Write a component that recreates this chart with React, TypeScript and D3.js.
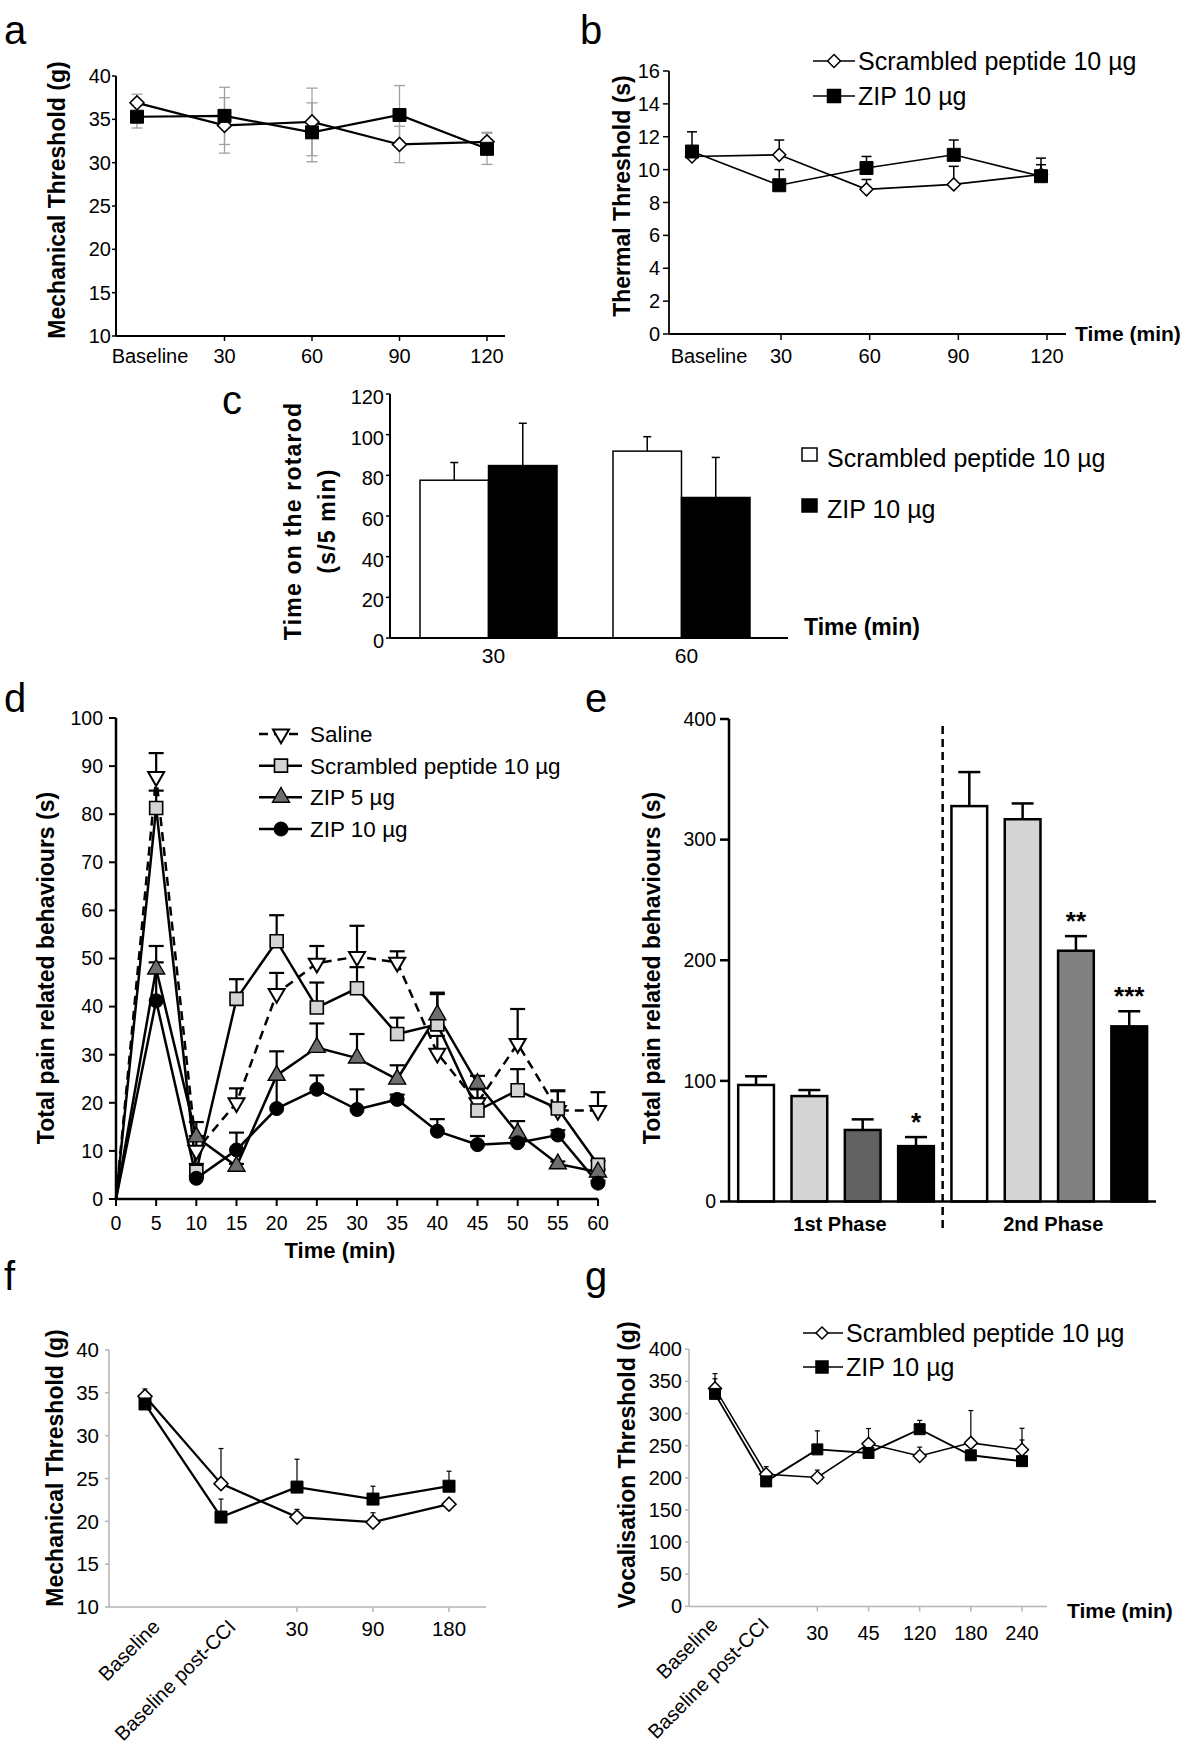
import React from 'react';
import * as d3 from 'd3';

const FONT = "'Liberation Sans', Arial, Helvetica, sans-serif";

// ---- panel a : mechanical threshold (g)
const aTimes = ['Baseline', '30', '60', '90', '120'];
const aYTicks = [10, 15, 20, 25, 30, 35, 40];
const aScrambled = [36.9, 34.3, 34.7, 32.1, 32.4];
const aScrambledSem = [1.0, 3.2, 3.9, 2.1, 1.1];
const aZip = [35.3, 35.4, 33.5, 35.5, 31.6];
const aZipSem = [1.3, 3.3, 3.4, 3.4, 1.8];

// ---- panel b : thermal threshold (s)
const bTimes = ['Baseline', '30', '60', '90', '120'];
const bYTicks = [0, 2, 4, 6, 8, 10, 12, 14, 16];
const bScrambled = [10.8, 10.9, 8.8, 9.1, 9.7];
const bScrambledSem = [0.2, 0.9, 0.6, 1.1, 1.0];
const bZip = [11.1, 9.05, 10.1, 10.9, 9.6];
const bZipSem = [1.2, 0.95, 0.7, 0.9, 0.7];

// ---- panel c : rotarod
const cTimes = ['30', '60'];
const cYTicks = [0, 20, 40, 60, 80, 100, 120];
const cScrambled = [77.6, 91.9];
const cScrambledSem = [8.7, 7.1];
const cZip = [84.8, 69.1];
const cZipSem = [20.8, 19.7];

// ---- panel d : formalin time course
const dTimes = [0, 5, 10, 15, 20, 25, 30, 35, 40, 45, 50, 55, 60];
const dYTicks = [0, 10, 20, 30, 40, 50, 60, 70, 80, 90, 100];
const dSaline = [0, 87.8, 10.1, 20.0, 42.7, 49.0, 50.4, 49.2, 30.3, 20.0, 32.3, 18.4, 18.4];
const dSalineSem = [0, 4.9, 3.0, 3.0, 4.3, 3.6, 6.4, 2.3, 3.6, 2.8, 7.2, 4.0, 3.8];
const dScrambled = [0, 81.3, 5.7, 41.6, 53.6, 39.8, 43.8, 34.3, 36.3, 18.4, 22.6, 18.8, 7.1];
const dScrambledSem = [0, 3.6, 1.6, 4.1, 5.4, 5.2, 4.4, 3.4, 6.3, 2.6, 4.4, 3.8, 0.8];
const dZip5 = [0, 47.8, 12.9, 6.8, 25.7, 31.5, 29.3, 24.9, 38.3, 24.0, 13.7, 7.3, 5.6];
const dZip5Sem = [0, 4.8, 3.1, 0.5, 5.0, 5.0, 5.0, 2.9, 4.6, 1.6, 2.5, 0.5, 0.5];
const dZip10 = [0, 41.2, 4.3, 10.2, 18.8, 22.8, 18.6, 20.7, 14.1, 11.3, 11.7, 13.3, 3.3];
const dZip10Sem = [0, 8.0, 0.5, 3.6, 6.1, 2.9, 4.2, 1.0, 2.5, 1.8, 0.5, 1.0, 0.5];
const dLegend = ['Saline', 'Scrambled peptide 10 µg', 'ZIP 5 µg', 'ZIP 10 µg'];

// ---- panel e : phases
const ePhases = ['1st Phase', '2nd Phase'];
const eGroups = ['Saline', 'Scrambled peptide 10 µg', 'ZIP 5 µg', 'ZIP 10 µg'];
const eYTicks = [0, 100, 200, 300, 400];
const ePhase1 = [96.6, 87.4, 59.3, 45.9];
const ePhase1Sem = [7.2, 5.0, 8.8, 7.5];
const ePhase1Sig = ['', '', '', '*'];
const ePhase2 = [327.8, 316.9, 207.9, 145.2];
const ePhase2Sem = [28.2, 13.1, 12.1, 12.5];
const ePhase2Sig = ['', '', '**', '***'];
const ePhase1Fill = ['#ffffff', '#d4d4d4', '#626262', '#000000'];
const ePhase2Fill = ['#ffffff', '#d4d4d4', '#808080', '#000000'];

// ---- panel f : CCI mechanical
const fTimes = ['Baseline', 'Baseline post-CCI', '30', '90', '180'];
const fYTicks = [10, 15, 20, 25, 30, 35, 40];
const fScrambled = [34.6, 24.4, 20.5, 19.9, 22.0];
const fScrambledSem = [0.85, 4.1, 0.9, 1.1, 0];
const fZip = [33.7, 20.5, 24.0, 22.6, 24.1];
const fZipSem = [0, 2.1, 3.25, 1.5, 1.75];

// ---- panel g : vocalisation
const gTimes = ['Baseline', 'Baseline post-CCI', '30', '45', '120', '180', '240'];
const gYTicks = [0, 50, 100, 150, 200, 250, 300, 350, 400];
const gScrambled = [339, 205.6, 200.5, 252.8, 234, 254.3, 243.7];
const gScrambledSem = [23, 11.7, 11.5, 23.8, 13.7, 50.3, 33.3];
const gZip = [330.5, 194.4, 244.2, 238.6, 275.6, 235, 225.9];
const gZipSem = [23.5, 0, 28.8, 0, 13.7, 0, 32.9];

type Shape = 'square' | 'diamond' | 'circle' | 'triUp' | 'triDown';

function Marker({ shape, x, y, size, fill, sw }: { shape: Shape; x: number; y: number; size: number; fill: string; sw: number }) {
  let d = '';
  let rot = 0;
  if (shape === 'square') d = d3.symbol().type(d3.symbolSquare).size(size * size)()!;
  if (shape === 'diamond') { d = d3.symbol().type(d3.symbolSquare).size(size * size / 2)()!; rot = 45; }
  if (shape === 'circle') d = d3.symbol().type(d3.symbolCircle).size(Math.PI * size * size / 4)()!;
  if (shape === 'triUp' || shape === 'triDown') {
    d = d3.symbol().type(d3.symbolTriangle).size(Math.sqrt(3) / 4 * size * size)()!;
    if (shape === 'triDown') rot = 180;
  }
  return <path d={d} transform={`translate(${x},${y}) rotate(${rot})`} fill={fill} stroke="#000" strokeWidth={sw} />;
}

type Series = {
  vals: number[]; sem: number[]; shape: Shape; size: number; fill: string; msw: number;
  lw: number; dash?: string; both?: boolean; eColor: string; eW: number; cap: number;
};

function Plot({ xs, y, series, skip = 0 }: { xs: number[]; y: d3.ScaleLinear<number, number>; series: Series[]; skip?: number }) {
  return (
    <g>
      {series.map((s, k) => (
        <g key={'e' + k}>
          {s.vals.map((v, i) => {
            if (i < skip || s.sem[i] <= 0) return null;
            const top = y(v + s.sem[i]);
            const bot = s.both ? y(v - s.sem[i]) : y(v);
            return (
              <g key={i} stroke={s.eColor} strokeWidth={s.eW}>
                <line x1={xs[i]} x2={xs[i]} y1={top} y2={bot} />
                <line x1={xs[i] - s.cap / 2} x2={xs[i] + s.cap / 2} y1={top} y2={top} />
                {s.both && <line x1={xs[i] - s.cap / 2} x2={xs[i] + s.cap / 2} y1={bot} y2={bot} />}
              </g>
            );
          })}
        </g>
      ))}
      {series.map((s, k) => (
        <path key={'l' + k}
          d={d3.line<number>().x((_, i) => xs[i]).y(v => y(v))(s.vals)!}
          fill="none" stroke="#000" strokeWidth={s.lw} strokeDasharray={s.dash} />
      ))}
      {series.map((s, k) => (
        <g key={'m' + k}>
          {s.vals.map((v, i) => i < skip ? null :
            <Marker key={i} shape={s.shape} x={xs[i]} y={y(v)} size={s.size} fill={s.fill} sw={s.msw} />)}
        </g>
      ))}
    </g>
  );
}

function YTitle({ x, y, text, size = 23 }: { x: number; y: number; text: string; size?: number }) {
  return (
    <text transform={`translate(${x},${y}) rotate(-90)`} textAnchor="middle" dy="0.35em"
      fontSize={size} fontWeight="bold">{text}</text>
  );
}

function PanelA() {
  const x = d3.scalePoint<string>().domain(aTimes).range([137, 487]);
  const y = d3.scaleLinear().domain([10, 40]).range([336, 76]);
  const xs = aTimes.map(c => x(c)!);
  const ax = 116;
  const series: Series[] = [
    { vals: aScrambled, sem: aScrambledSem, shape: 'diamond', size: 14, fill: '#fff', msw: 1.6, lw: 2.2, both: true, eColor: '#a0a0a0', eW: 1.3, cap: 11 },
    { vals: aZip, sem: aZipSem, shape: 'square', size: 13, fill: '#000', msw: 1, lw: 2.2, both: true, eColor: '#a0a0a0', eW: 1.3, cap: 11 },
  ];
  return (
    <g>
      <text x={4} y={44} fontSize={40}>a</text>
      <line x1={ax} x2={ax} y1={y(40)} y2={y(10)} stroke="#000" strokeWidth={2} />
      <line x1={ax} x2={505} y1={y(10)} y2={y(10)} stroke="#000" strokeWidth={2} />
      {aYTicks.map(t => (
        <g key={t}>
          <line x1={ax - 4} x2={ax} y1={y(t)} y2={y(t)} stroke="#000" strokeWidth={1.5} />
          <text x={ax - 5} y={y(t)} dy="0.35em" textAnchor="end" fontSize={20}>{t}</text>
        </g>
      ))}
      {aTimes.map((c, i) => (
        <g key={c}>
          {i > 0 && <line x1={xs[i]} x2={xs[i]} y1={y(10)} y2={y(10) + 5} stroke="#000" strokeWidth={1.5} />}
          <text x={i === 0 ? xs[i] + 13 : xs[i]} y={356} dy="0.35em" textAnchor="middle" fontSize={20}>{c}</text>
        </g>
      ))}
      <YTitle x={57} y={200} text="Mechanical Threshold (g)" />
      <Plot xs={xs} y={y} series={series} />
    </g>
  );
}

function PanelB() {
  const x = d3.scalePoint<string>().domain(bTimes).range([692, 1041]);
  const tick = d3.scalePoint<string>().domain(bTimes.slice(1)).range([781, 1047]);
  const y = d3.scaleLinear().domain([0, 16]).range([334, 71]);
  const xs = bTimes.map(c => x(c)!);
  const ax = 669;
  const series: Series[] = [
    { vals: bScrambled, sem: bScrambledSem, shape: 'diamond', size: 13, fill: '#fff', msw: 1.5, lw: 1.6, eColor: '#000', eW: 1.5, cap: 10 },
    { vals: bZip, sem: bZipSem, shape: 'square', size: 13, fill: '#000', msw: 1, lw: 1.6, eColor: '#000', eW: 1.5, cap: 10 },
  ];
  return (
    <g>
      <text x={580} y={44} fontSize={40}>b</text>
      <line x1={ax} x2={ax} y1={y(16)} y2={y(0)} stroke="#000" strokeWidth={1.8} />
      <line x1={ax} x2={1066} y1={y(0)} y2={y(0)} stroke="#000" strokeWidth={1.8} />
      {bYTicks.map(t => (
        <g key={t}>
          <line x1={ax - 6} x2={ax} y1={y(t)} y2={y(t)} stroke="#000" strokeWidth={1.5} />
          <text x={ax - 9} y={y(t)} dy="0.35em" textAnchor="end" fontSize={20}>{t}</text>
        </g>
      ))}
      {bTimes.slice(1).map(c => (
        <g key={c}>
          <line x1={tick(c)!} x2={tick(c)!} y1={y(0)} y2={y(0) + 6} stroke="#000" strokeWidth={1.5} />
          <text x={tick(c)!} y={356} dy="0.35em" textAnchor="middle" fontSize={20}>{c}</text>
        </g>
      ))}
      <text x={xs[0] + 17} y={356} dy="0.35em" textAnchor="middle" fontSize={20}>{bTimes[0]}</text>
      <text x={1075} y={y(0)} dy="0.35em" fontSize={21} fontWeight="bold">Time (min)</text>
      <YTitle x={622} y={196} text="Thermal Threshold (s)" />
      <Plot xs={xs} y={y} series={series} />
      {[{ label: 'Scrambled peptide 10 µg', shape: 'diamond' as Shape, fill: '#fff', yy: 61 },
        { label: 'ZIP 10 µg', shape: 'square' as Shape, fill: '#000', yy: 96 }].map(l => (
        <g key={l.label}>
          <line x1={813} x2={855} y1={l.yy} y2={l.yy} stroke="#000" strokeWidth={1.5} />
          <Marker shape={l.shape} x={834} y={l.yy} size={13} fill={l.fill} sw={1.5} />
          <text x={858} y={l.yy} dy="0.35em" fontSize={25}>{l.label}</text>
        </g>
      ))}
    </g>
  );
}

function PanelC() {
  const outer = d3.scaleBand<string>().domain(cTimes).range([420, 750]).paddingInner(0.29);
  const inner = d3.scaleBand<string>().domain(['scr', 'zip']).range([0, outer.bandwidth()]);
  const y = d3.scaleLinear().domain([0, 120]).range([638, 394]);
  const ax = 390;
  const groups = [
    { key: 'scr', vals: cScrambled, sem: cScrambledSem, fill: '#fff' },
    { key: 'zip', vals: cZip, sem: cZipSem, fill: '#000' },
  ];
  return (
    <g>
      <text x={222} y={414} fontSize={40}>c</text>
      <line x1={ax} x2={ax} y1={y(120)} y2={y(0)} stroke="#000" strokeWidth={2} />
      {cYTicks.map(t => (
        <g key={t}>
          <line x1={ax - 4} x2={ax} y1={y(t)} y2={y(t)} stroke="#000" strokeWidth={1.5} />
          <text x={ax - 6} y={y(t) + 3} dy="0.35em" textAnchor="end" fontSize={20}>{t}</text>
        </g>
      ))}
      {cTimes.map((c, i) => (
        <g key={c}>
          {groups.map(g => {
            const bx = outer(c)! + inner(g.key)!;
            const cx = bx + inner.bandwidth() / 2;
            const top = y(g.vals[i] + g.sem[i]);
            return (
              <g key={g.key}>
                <line x1={cx} x2={cx} y1={top} y2={y(g.vals[i])} stroke="#000" strokeWidth={1.5} />
                <line x1={cx - 4} x2={cx + 4} y1={top} y2={top} stroke="#000" strokeWidth={1.5} />
                <rect x={bx} width={inner.bandwidth()} y={y(g.vals[i])} height={y(0) - y(g.vals[i])}
                  fill={g.fill} stroke="#000" strokeWidth={1.5} />
              </g>
            );
          })}
          <text x={outer(c)! + outer.bandwidth() / 2 + 5} y={656} dy="0.35em" textAnchor="middle" fontSize={21}>{c}</text>
        </g>
      ))}
      <line x1={ax} x2={788} y1={y(0)} y2={y(0)} stroke="#000" strokeWidth={2} />
      <text transform="translate(293,521) rotate(-90)" textAnchor="middle" dy="0.35em" fontSize={23}
        fontWeight="bold" letterSpacing={1.2}>Time on the rotarod</text>
      <text transform="translate(327,521) rotate(-90)" textAnchor="middle" dy="0.35em" fontSize={23}
        fontWeight="bold" letterSpacing={1.2}>(s/5 min)</text>
      <rect x={802} y={448} width={15} height={13} fill="#fff" stroke="#000" strokeWidth={1.5} />
      <text x={827} y={458} dy="0.35em" fontSize={25}>Scrambled peptide 10 µg</text>
      <rect x={802} y={499} width={15} height={13} fill="#000" stroke="#000" strokeWidth={1.5} />
      <text x={827} y={509} dy="0.35em" fontSize={25}>ZIP 10 µg</text>
      <text x={804} y={627} dy="0.35em" fontSize={23} fontWeight="bold">Time (min)</text>
    </g>
  );
}

function PanelD() {
  const x = d3.scaleLinear().domain([0, 60]).range([116, 598]);
  const y = d3.scaleLinear().domain([0, 100]).range([1199, 718]);
  const xs = dTimes.map(t => x(t));
  const ax = 116;
  const series: Series[] = [
    { vals: dSaline, sem: dSalineSem, shape: 'triDown', size: 16, fill: '#fff', msw: 2, lw: 2.5, dash: '9 6', eColor: '#000', eW: 2.2, cap: 15 },
    { vals: dScrambled, sem: dScrambledSem, shape: 'square', size: 13, fill: '#d4d4d4', msw: 1.6, lw: 2.5, eColor: '#000', eW: 2.2, cap: 15 },
    { vals: dZip5, sem: dZip5Sem, shape: 'triUp', size: 17, fill: '#6e6e6e', msw: 1.4, lw: 2.5, eColor: '#000', eW: 2.2, cap: 15 },
    { vals: dZip10, sem: dZip10Sem, shape: 'circle', size: 14, fill: '#000', msw: 1, lw: 2.5, eColor: '#000', eW: 2.2, cap: 15 },
  ];
  const legendY = d3.scalePoint<string>().domain(dLegend).range([734, 829]);
  return (
    <g>
      <text x={4} y={712} fontSize={40}>d</text>
      <line x1={ax} x2={ax} y1={y(100)} y2={y(0)} stroke="#000" strokeWidth={2.5} />
      <line x1={ax} x2={x(60)} y1={y(0)} y2={y(0)} stroke="#000" strokeWidth={2.5} />
      {dYTicks.map(t => (
        <g key={t}>
          <line x1={ax - 7} x2={ax} y1={y(t)} y2={y(t)} stroke="#000" strokeWidth={2} />
          <text x={ax - 13} y={y(t)} dy="0.35em" textAnchor="end" fontSize={19.5}>{t}</text>
        </g>
      ))}
      {dTimes.map(t => (
        <g key={t}>
          <line x1={x(t)} x2={x(t)} y1={y(0)} y2={y(0) + 7} stroke="#000" strokeWidth={2} />
          <text x={x(t)} y={1223} dy="0.35em" textAnchor="middle" fontSize={19.5}>{t}</text>
        </g>
      ))}
      <text x={340} y={1250} dy="0.35em" textAnchor="middle" fontSize={22} fontWeight="bold">Time (min)</text>
      <YTitle x={46} y={968} text="Total pain related behaviours (s)" />
      <Plot xs={xs} y={y} series={series} skip={1} />
      {dLegend.map((l, i) => (
        <g key={l}>
          <line x1={259} x2={302} y1={legendY(l)!} y2={legendY(l)!} stroke="#000" strokeWidth={2.5}
            strokeDasharray={series[i].dash} />
          <Marker shape={series[i].shape} x={281} y={legendY(l)!} size={series[i].size} fill={series[i].fill} sw={series[i].msw} />
          <text x={310} y={legendY(l)!} dy="0.35em" fontSize={22.5}>{l}</text>
        </g>
      ))}
    </g>
  );
}

function PanelE() {
  const outer = d3.scaleBand<string>().domain(ePhases).range([729.4, 1155.9]);
  const inner = d3.scaleBand<string>().domain(eGroups).range([0, outer.bandwidth()]).paddingInner(0.33).paddingOuter(0.165);
  const y = d3.scaleLinear().domain([0, 400]).range([1201.5, 719]);
  const ax = 729;
  const phases = [
    { p: ePhases[0], vals: ePhase1, sem: ePhase1Sem, sig: ePhase1Sig, fill: ePhase1Fill },
    { p: ePhases[1], vals: ePhase2, sem: ePhase2Sem, sig: ePhase2Sig, fill: ePhase2Fill },
  ];
  const divX = outer(ePhases[1])!;
  return (
    <g>
      <text x={585} y={712} fontSize={40}>e</text>
      {phases.map(ph => (
        <g key={ph.p}>
          {eGroups.map((g, i) => {
            const bx = outer(ph.p)! + inner(g)!;
            const cx = bx + inner.bandwidth() / 2;
            const top = y(ph.vals[i] + ph.sem[i]);
            return (
              <g key={g}>
                <line x1={cx} x2={cx} y1={top} y2={y(ph.vals[i])} stroke="#000" strokeWidth={2.5} />
                <line x1={cx - 11} x2={cx + 11} y1={top} y2={top} stroke="#000" strokeWidth={2.5} />
                <rect x={bx} width={inner.bandwidth()} y={y(ph.vals[i])} height={y(0) - y(ph.vals[i])}
                  fill={ph.fill[i]} stroke="#000" strokeWidth={2.5} />
                {ph.sig[i] && <text x={cx} y={top - 6} textAnchor="middle" fontSize={26} fontWeight="bold">{ph.sig[i]}</text>}
              </g>
            );
          })}
          <text x={outer(ph.p)! + outer.bandwidth() / 2 + 4} y={1223.5} dy="0.35em" textAnchor="middle"
            fontSize={20} fontWeight="bold">{ph.p}</text>
        </g>
      ))}
      <line x1={ax} x2={ax} y1={y(400)} y2={y(0)} stroke="#000" strokeWidth={2.5} />
      <line x1={ax} x2={1156} y1={y(0)} y2={y(0)} stroke="#000" strokeWidth={2.5} />
      {eYTicks.map(t => (
        <g key={t}>
          <line x1={ax - 9} x2={ax} y1={y(t)} y2={y(t)} stroke="#000" strokeWidth={2.5} />
          <text x={ax - 13} y={y(t)} dy="0.35em" textAnchor="end" fontSize={19.5}>{t}</text>
        </g>
      ))}
      <line x1={divX} x2={divX} y1={726} y2={1228} stroke="#000" strokeWidth={2.5} strokeDasharray="8 5" />
      <YTitle x={652} y={968} text="Total pain related behaviours (s)" />
    </g>
  );
}

function PanelF() {
  const x = d3.scalePoint<string>().domain(fTimes).range([145, 449]);
  const y = d3.scaleLinear().domain([10, 40]).range([1607, 1350]);
  const xs = fTimes.map(c => x(c)!);
  const ax = 109;
  const grey = '#b5b5b5';
  const series: Series[] = [
    { vals: fScrambled, sem: fScrambledSem, shape: 'diamond', size: 14, fill: '#fff', msw: 1.6, lw: 2.3, eColor: '#000', eW: 1.2, cap: 5 },
    { vals: fZip, sem: fZipSem, shape: 'square', size: 12, fill: '#000', msw: 1, lw: 2.3, eColor: '#000', eW: 1.2, cap: 5 },
  ];
  return (
    <g>
      <text x={4} y={1290} fontSize={40}>f</text>
      <line x1={ax} x2={ax} y1={y(40)} y2={y(10)} stroke={grey} strokeWidth={1.5} />
      <line x1={ax} x2={486} y1={y(10)} y2={y(10)} stroke={grey} strokeWidth={1.5} />
      {fYTicks.map(t => (
        <g key={t}>
          <line x1={ax - 4} x2={ax} y1={y(t)} y2={y(t)} stroke={grey} strokeWidth={1.5} />
          <text x={ax - 10} y={y(t)} dy="0.35em" textAnchor="end" fontSize={20.5}>{t}</text>
        </g>
      ))}
      {fTimes.map((c, i) => i < 2 ? (
        <text key={c} transform={`translate(${xs[i] + 16},${1628}) rotate(-45)`} textAnchor="end" fontSize={20}>{c}</text>
      ) : (
        <g key={c}>
          <line x1={xs[i]} x2={xs[i]} y1={y(10)} y2={y(10) + 5} stroke={grey} strokeWidth={1.5} />
          <text x={xs[i]} y={1629} dy="0.35em" textAnchor="middle" fontSize={20.5}>{c}</text>
        </g>
      ))}
      <YTitle x={55} y={1468} text="Mechanical Threshold (g)" />
      <Plot xs={xs} y={y} series={series} />
    </g>
  );
}

function PanelG() {
  const x = d3.scalePoint<string>().domain(gTimes).range([715, 1022]);
  const y = d3.scaleLinear().domain([0, 400]).range([1606.4, 1349.2]);
  const xs = gTimes.map(c => x(c)!);
  const ax = 689;
  const grey = '#b5b5b5';
  const series: Series[] = [
    { vals: gScrambled, sem: gScrambledSem, shape: 'diamond', size: 13, fill: '#fff', msw: 1.5, lw: 1.5, eColor: '#000', eW: 1.2, cap: 5 },
    { vals: gZip, sem: gZipSem, shape: 'square', size: 11, fill: '#000', msw: 1, lw: 1.9, eColor: '#000', eW: 1.2, cap: 5 },
  ];
  return (
    <g>
      <text x={585} y={1290} fontSize={40}>g</text>
      <line x1={ax} x2={ax} y1={y(400)} y2={y(0)} stroke={grey} strokeWidth={1.5} />
      <line x1={ax} x2={1047} y1={y(0)} y2={y(0)} stroke={grey} strokeWidth={1.5} />
      {gYTicks.map(t => (
        <g key={t}>
          <line x1={ax - 4} x2={ax} y1={y(t)} y2={y(t)} stroke={grey} strokeWidth={1.5} />
          <text x={ax - 7} y={y(t)} dy="0.35em" textAnchor="end" fontSize={20}>{t}</text>
        </g>
      ))}
      {gTimes.map((c, i) => i < 2 ? (
        <text key={c} transform={`translate(${xs[i] + 4},${1626}) rotate(-45)`} textAnchor="end" fontSize={20}>{c}</text>
      ) : (
        <g key={c}>
          <line x1={xs[i]} x2={xs[i]} y1={y(0)} y2={y(0) + 5} stroke={grey} strokeWidth={1.5} />
          <text x={xs[i]} y={1633} dy="0.35em" textAnchor="middle" fontSize={20}>{c}</text>
        </g>
      ))}
      <text x={1067} y={1611} dy="0.35em" fontSize={21} fontWeight="bold">Time (min)</text>
      <YTitle x={627} y={1465} text="Vocalisation Threshold (g)" />
      <Plot xs={xs} y={y} series={series} />
      {[{ label: 'Scrambled peptide 10 µg', shape: 'diamond' as Shape, fill: '#fff', yy: 1333 },
        { label: 'ZIP 10 µg', shape: 'square' as Shape, fill: '#000', yy: 1367 }].map(l => (
        <g key={l.label}>
          <line x1={803} x2={843} y1={l.yy} y2={l.yy} stroke="#000" strokeWidth={1.5} />
          <Marker shape={l.shape} x={822} y={l.yy} size={12} fill={l.fill} sw={1.5} />
          <text x={846} y={l.yy} dy="0.35em" fontSize={25}>{l.label}</text>
        </g>
      ))}
    </g>
  );
}

export default function App() {
  return (
    <div style={{ position: 'absolute', left: 0, top: 0 }}>
      <svg width={1200} height={1745} viewBox="0 0 1200 1745" fontFamily={FONT}
        style={{ display: 'block', background: '#fff' }}>
        <rect width={1200} height={1745} fill="#fff" />
        <PanelA />
        <PanelB />
        <PanelC />
        <PanelD />
        <PanelE />
        <PanelF />
        <PanelG />
      </svg>
    </div>
  );
}
